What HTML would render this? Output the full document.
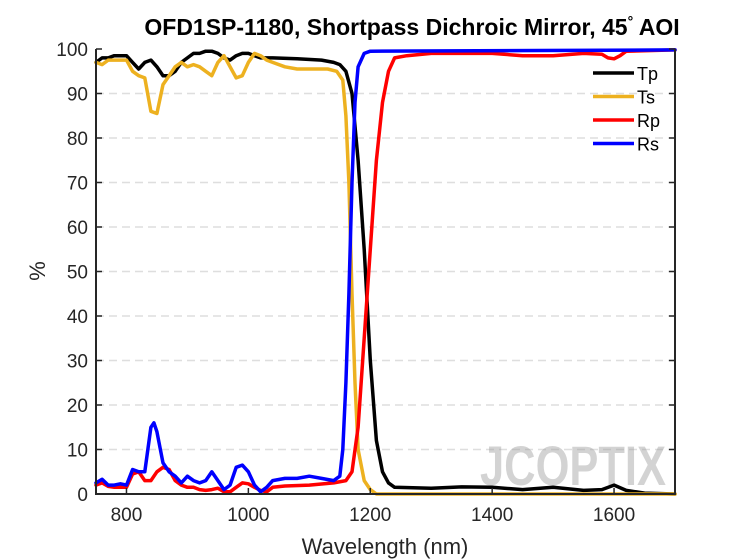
<!DOCTYPE html>
<html><head><meta charset="utf-8">
<style>
html,body{margin:0;padding:0;background:#fff;}
svg{display:block;font-family:"Liberation Sans",Arial,sans-serif;}
</style></head>
<body>
<svg id="chart" width="747" height="560" viewBox="0 0 747 560" xmlns="http://www.w3.org/2000/svg">
<rect width="747" height="560" fill="#fff"/>
<text x="412" y="35" text-anchor="middle" font-size="23" font-weight="bold" fill="#000">OFD1SP-1180, Shortpass Dichroic Mirror, 45<tspan dy="-9" font-size="14">°</tspan><tspan dy="9"> AOI</tspan></text>
<g id="grid"></g>
<g id="watermark" opacity="0.45">
<text x="480" y="485" font-size="56" font-weight="bold" fill="#a0a0a0" textLength="186" lengthAdjust="spacingAndGlyphs">JCOPTIX</text>
</g>
<g id="series"></g>
<g id="axes"></g>
<g id="legend"></g>
<text x="385" y="554" text-anchor="middle" font-size="22" fill="#262626">Wavelength (nm)</text>
<text transform="translate(45,271) rotate(-90)" text-anchor="middle" font-size="22" fill="#262626">%</text>
</svg>
<script>
const xTicks=[800,1000,1200,1400,1600];
const yTicks=[0,10,20,30,40,50,60,70,80,90,100];
const tpWl=[750,760,770,780,790,800,810,820,830,840,850,860,870,880,890,900,910,920,930,940,950,960,970,980,990,1000,1010,1020,1040,1080,1120,1140,1150,1160,1170,1180,1190,1200,1210,1220,1230,1240,1300,1350,1400,1450,1500,1550,1580,1600,1620,1650,1700];
const tpVal=[97,98,98,98.5,98.5,98.5,97,95.5,97,97.5,96,94,94,95,97,98,99,99,99.5,99.5,99,98,97.5,98.5,99,99,98.5,98,98,97.8,97.5,97,96.5,95,90,75,55,30,12,5,2.5,1.5,1.3,1.6,1.5,1,1.5,0.8,1,2,0.8,0.2,0];
const tsWl=[750,760,770,780,790,800,810,820,830,840,850,860,870,880,890,900,910,920,930,940,950,960,970,980,990,1000,1010,1020,1030,1040,1060,1080,1100,1130,1145,1155,1160,1165,1170,1175,1180,1190,1200,1210,1700];
const tsVal=[97,96.5,97.5,97.5,97.5,97.5,95,94,93.5,86,85.5,92,94,96,97,96,96.5,96,95,94,97,98.5,96,93.5,94,97,99,98.5,97.5,97,96,95.5,95.5,95.5,95,93,85,70,45,25,10,3,1,0,0];
const rsWl=[750,760,770,780,790,800,810,820,830,840,845,850,860,870,880,890,900,910,920,930,940,950,960,970,980,990,1000,1010,1020,1030,1040,1060,1080,1100,1120,1140,1150,1155,1160,1165,1170,1175,1180,1190,1200,1700];
const rsVal=[2.5,3.3,2,2,2.3,2,5.5,5,5,15,16,14,7,5,4,2.5,4,3,2.5,3,5,3,1,2,6,6.5,5,2,0.5,1.5,3,3.5,3.5,4,3.5,3,4,10,25,45,70,88,96,99,99.5,99.8];
const rpWl=[750,760,770,780,790,800,810,820,830,840,850,860,870,880,890,900,910,920,930,940,950,960,970,980,990,1000,1010,1020,1030,1040,1060,1100,1140,1160,1170,1180,1190,1200,1210,1220,1230,1240,1260,1300,1400,1450,1500,1550,1580,1590,1600,1610,1620,1700];
const rpVal=[2,2.5,1.7,1.5,1.5,1.5,4.5,5,3,3,5,6,5.5,3,2,1.5,1.5,1,0.8,1,1.3,0.5,0.5,1.5,2.5,2.3,1.5,0.8,0.5,1.5,1.8,2,2.5,3,5,15,35,55,75,88,95,98,98.5,99,99,98.5,98.5,99,98.8,98,97.8,98.5,99.5,99.8];

const X0=96,X1=675,Y0=494,Y1=49,XMIN=750,XMAX=1700;
const sx=v=>X0+(v-XMIN)/(XMAX-XMIN)*(X1-X0);
const sy=v=>Y0-v/100*(Y0-Y1);
const NS='http://www.w3.org/2000/svg';
function mk(tag,attrs,parent){const e=document.createElementNS(NS,tag);for(const k in attrs)e.setAttribute(k,attrs[k]);parent.appendChild(e);return e;}
const grid=document.getElementById('grid'),axes=document.getElementById('axes'),series=document.getElementById('series'),legend=document.getElementById('legend');
yTicks.forEach(t=>{
  if(t>0&&t<100){const g=mk('line',{x1:X0,x2:X1,y1:sy(t),y2:sy(t),stroke:'#dedede','stroke-width':1.5,'stroke-dasharray':'8,5'},grid);
  
  }
  const tk=mk('line',{x1:X0,x2:X0+6,y1:sy(t),y2:sy(t),stroke:'#262626','stroke-width':1.5},axes);
  
  
  const tk2=mk('line',{x1:X1-6,x2:X1,y1:sy(t),y2:sy(t),stroke:'#262626','stroke-width':1.5},axes);
  
  
  const lb=mk('text',{x:X0-8,y:sy(t)+7,'text-anchor':'end','font-size':19,fill:'#262626'},axes);
  lb.textContent=t;
  
  
});
xTicks.forEach(t=>{
  const tk=mk('line',{x1:sx(t),x2:sx(t),y1:Y0,y2:Y0-6,stroke:'#262626','stroke-width':1.5},axes);
  
  
  const lb=mk('text',{x:sx(t),y:Y0+27,'text-anchor':'middle','font-size':19,fill:'#262626'},axes);
  lb.textContent=t;
  
  
});
const ax=mk('path',{d:`M${X0},${Y1}V${Y0}H${X1}V${Y1}`,fill:'none',stroke:'#262626','stroke-width':2},axes);


const defs=[['Tp',tpWl,tpVal,'#000000'],['Ts',tsWl,tsVal,'#EDB120'],['Rp',rpWl,rpVal,'#FF0000'],['Rs',rsWl,rsVal,'#0000FF']];
defs.forEach((d,i)=>{
  const pts=d[1].map((w,j)=>sx(w).toFixed(1)+','+sy(d[2][j]).toFixed(1)).join(' ');
  const p=mk('polyline',{points:pts,fill:'none',stroke:d[3],'stroke-width':3.5,'stroke-linejoin':'round','stroke-linecap':'round'},series);
  
  
  const ly=73+i*23.5;
  const ll=mk('line',{x1:593,x2:634,y1:ly,y2:ly,stroke:d[3],'stroke-width':3.5},legend);
  
  
  const lt=mk('text',{x:637,y:ly+7,'font-size':18,fill:'#000'},legend);
  lt.textContent=d[0];
  
  
});
</script>
</body></html>
